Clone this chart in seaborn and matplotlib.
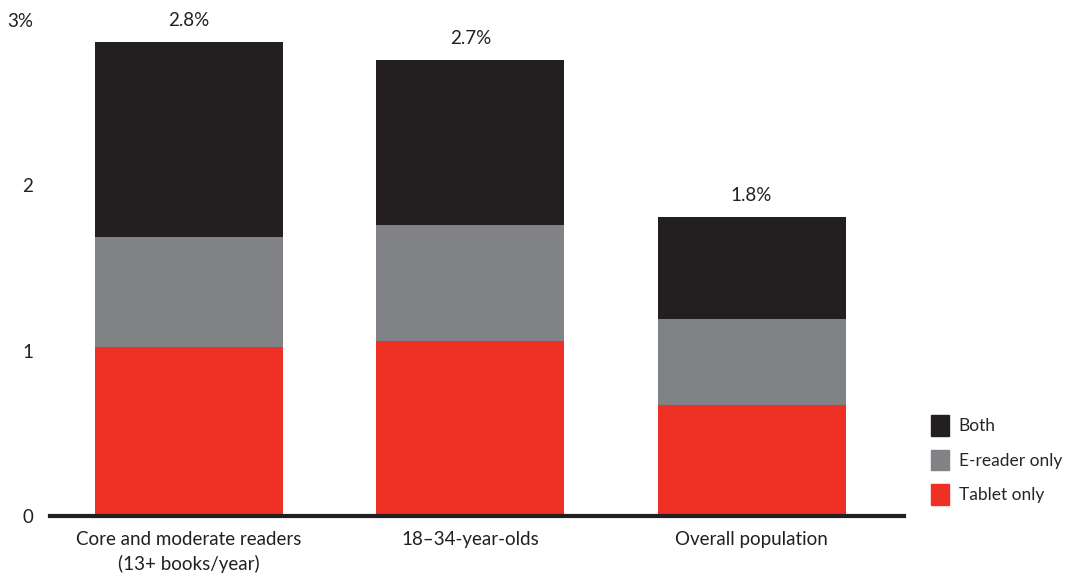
import pandas as pd
import matplotlib.pyplot as plt
import seaborn as sns
from matplotlib.patches import Patch

# data
groups = ['Core and moderate readers\n(13+ books/year)', '18\u201334-year-olds', 'Overall population']
tablet_only = [1.02, 1.06, 0.67]
ereader_only = [0.67, 0.70, 0.52]
both = [1.18, 1.00, 0.62]
total_labels = ['2.8%', '2.7%', '1.8%']
y_ticks = [0, 1, 2, 3]
y_tick_labels = ['0', '1', '2', '3%']

c_both = '#231f20'
c_ereader = '#808285'
c_tablet = '#ee3124'

sns.set_theme(style='white')
plt.rcParams['font.family'] = ['Lato', 'DejaVu Sans']
fs = 13.5

df = pd.DataFrame({'group': groups, 'tablet': tablet_only,
                   'ereader': ereader_only, 'both': both})
df['l2'] = df['tablet'] + df['ereader']
df['l3'] = df['l2'] + df['both']

fig = plt.figure(figsize=(10.68, 5.75), dpi=100)
ax = fig.add_axes([0.0468, 0.1026, 0.8, 0.8626])

# stacked by layering cumulative heights
for col, c in [('l3', c_both), ('l2', c_ereader), ('tablet', c_tablet)]:
    sns.barplot(data=df, x='group', y=col, color=c, width=0.668,
                saturation=1, linewidth=0, ax=ax)

for i, (h, lab) in enumerate(zip(df['l3'], total_labels)):
    ax.text(i, h + 0.075, lab, ha='center', va='bottom', fontsize=fs, color='#231f20')

ax.set_xlim(-0.494, 2.543)
ax.set_ylim(0, 3)
ax.set_yticks(y_ticks)
ax.set_yticklabels(y_tick_labels)
ax.set_xlabel('')
ax.set_ylabel('')
ax.tick_params(axis='y', length=0, pad=12, labelsize=fs, labelcolor='#231f20')
ax.tick_params(axis='x', length=0, pad=11, labelsize=fs, labelcolor='#231f20')
for t in ax.get_xticklabels():
    t.set_linespacing(1.45)
sns.despine(ax=ax, left=True)
ax.spines['bottom'].set_linewidth(3)
ax.spines['bottom'].set_color('#231f20')
ax.spines['bottom'].set_zorder(5)

handles = [Patch(color=c_both, label='Both'),
           Patch(color=c_ereader, label='E-reader only'),
           Patch(color=c_tablet, label='Tablet only')]
fig.legend(handles=handles, loc='upper left', bbox_to_anchor=(0.865, 0.29),
           frameon=False, fontsize=12.5, handlelength=1.05, handleheight=1.45,
           handletextpad=0.55, labelspacing=0.8, borderaxespad=0)

fig.savefig('out.png', dpi=100)
